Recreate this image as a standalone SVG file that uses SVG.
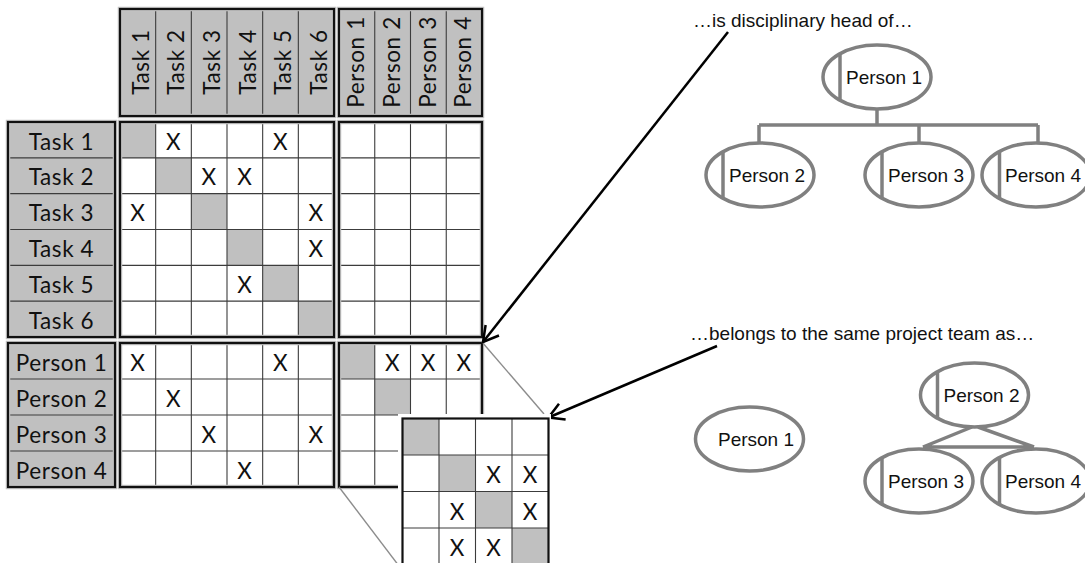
<svg xmlns="http://www.w3.org/2000/svg" width="1085" height="563" viewBox="0 0 1085 563">
<defs>
<style>
.g{fill:#c0c0c0}
.w{fill:#fff}
.halo{fill:none;stroke:#c4c4c4;stroke-width:4.5}
.frame{fill:none;stroke:#111;stroke-width:2.2}
.grid{fill:none;stroke:#3c3c3c;stroke-width:1.1}
.m{font-family:Lato,"Liberation Sans",sans-serif;font-size:22.5px;letter-spacing:0.6px;fill:#111;text-anchor:middle}
.a{font-family:"Liberation Sans",Arial,sans-serif;font-size:19px;fill:#111}
.pn{font-family:"Liberation Sans",Arial,sans-serif;font-size:19px;fill:#111;text-anchor:middle}
.el{fill:#fff;stroke:#808080;stroke-width:3.5}
.gl{fill:none;stroke:#808080;stroke-width:3.5}
.arrow{fill:none;stroke:#000;stroke-width:2.5}
.proj{fill:none;stroke:#8c8c8c;stroke-width:1.4}
</style>
<marker id="arr" markerUnits="userSpaceOnUse" viewBox="-18 -11 22 22" markerWidth="22" markerHeight="22" refX="0" refY="0" orient="auto">
<path d="M-15,-8.5 L0,0 L-15,8.5" fill="none" stroke="#000" stroke-width="2.5"/>
</marker>
</defs>
<rect width="1085" height="563" fill="#fff"/>

<g id="task-header">
<rect x="120" y="9" width="214" height="107" class="g"/>
<path class="grid" d="M155.67,9V116M191.33,9V116M227,9V116M262.67,9V116M298.33,9V116"/>
<rect x="120" y="9" width="214" height="107" class="halo"/>
<rect x="120" y="9" width="214" height="107" class="frame"/>
<text class="m" transform="translate(148.5,62) rotate(-90)">Task 1</text>
<text class="m" transform="translate(184.17,62) rotate(-90)">Task 2</text>
<text class="m" transform="translate(219.83,62) rotate(-90)">Task 3</text>
<text class="m" transform="translate(255.5,62) rotate(-90)">Task 4</text>
<text class="m" transform="translate(291.17,62) rotate(-90)">Task 5</text>
<text class="m" transform="translate(326.83,62) rotate(-90)">Task 6</text>
</g>

<g id="person-header">
<rect x="339" y="9" width="143" height="107" class="g"/>
<path class="grid" d="M374.75,9V116M410.5,9V116M446.25,9V116"/>
<rect x="339" y="9" width="143" height="107" class="halo"/>
<rect x="339" y="9" width="143" height="107" class="frame"/>
<text class="m" transform="translate(364,62) rotate(-90)">Person 1</text>
<text class="m" transform="translate(399.75,62) rotate(-90)">Person 2</text>
<text class="m" transform="translate(435.5,62) rotate(-90)">Person 3</text>
<text class="m" transform="translate(471.25,62) rotate(-90)">Person 4</text>
</g>

<g id="task-labels">
<rect x="8" y="122" width="107" height="215" class="g"/>
<path class="grid" d="M8,157.83H115M8,193.67H115M8,229.5H115M8,265.33H115M8,301.17H115"/>
<rect x="8" y="122" width="107" height="215" class="halo"/>
<rect x="8" y="122" width="107" height="215" class="frame"/>
<text class="m" x="61.5" y="149.5">Task 1</text>
<text class="m" x="61.5" y="185.3">Task 2</text>
<text class="m" x="61.5" y="221.2">Task 3</text>
<text class="m" x="61.5" y="257">Task 4</text>
<text class="m" x="61.5" y="292.8">Task 5</text>
<text class="m" x="61.5" y="328.7">Task 6</text>
</g>

<g id="person-labels">
<rect x="8" y="343" width="107" height="144" class="g"/>
<path class="grid" d="M8,379H115M8,415H115M8,451H115"/>
<rect x="8" y="343" width="107" height="144" class="halo"/>
<rect x="8" y="343" width="107" height="144" class="frame"/>
<text class="m" x="61.5" y="370.5">Person 1</text>
<text class="m" x="61.5" y="406.5">Person 2</text>
<text class="m" x="61.5" y="442.5">Person 3</text>
<text class="m" x="61.5" y="478.5">Person 4</text>
</g>

<g id="task-task">
<rect x="120" y="122" width="214" height="215" class="w"/>
<rect x="120" y="122" width="35.67" height="35.83" class="g"/>
<rect x="155.67" y="157.83" width="35.67" height="35.83" class="g"/>
<rect x="191.33" y="193.67" width="35.67" height="35.83" class="g"/>
<rect x="227" y="229.5" width="35.67" height="35.83" class="g"/>
<rect x="262.67" y="265.33" width="35.67" height="35.83" class="g"/>
<rect x="298.33" y="301.17" width="35.67" height="35.83" class="g"/>
<path class="grid" d="M155.67,122V337M191.33,122V337M227,122V337M262.67,122V337M298.33,122V337M120,157.83H334M120,193.67H334M120,229.5H334M120,265.33H334M120,301.17H334"/>
<rect x="120" y="122" width="214" height="215" class="halo"/>
<rect x="120" y="122" width="214" height="215" class="frame"/>
<text class="m" x="173.5" y="149.5">X</text>
<text class="m" x="280.5" y="149.5">X</text>
<text class="m" x="209.17" y="185.3">X</text>
<text class="m" x="244.83" y="185.3">X</text>
<text class="m" x="137.83" y="221.2">X</text>
<text class="m" x="316.17" y="221.2">X</text>
<text class="m" x="316.17" y="257">X</text>
<text class="m" x="244.83" y="292.8">X</text>
</g>

<g id="task-person">
<rect x="339" y="122" width="143" height="215" class="w"/>
<path class="grid" d="M374.75,122V337M410.5,122V337M446.25,122V337M339,157.83H482M339,193.67H482M339,229.5H482M339,265.33H482M339,301.17H482"/>
<rect x="339" y="122" width="143" height="215" class="halo"/>
<rect x="339" y="122" width="143" height="215" class="frame"/>
</g>

<g id="person-task">
<rect x="120" y="343" width="214" height="144" class="w"/>
<path class="grid" d="M155.67,343V487M191.33,343V487M227,343V487M262.67,343V487M298.33,343V487M120,379H334M120,415H334M120,451H334"/>
<rect x="120" y="343" width="214" height="144" class="halo"/>
<rect x="120" y="343" width="214" height="144" class="frame"/>
<text class="m" x="137.83" y="370.5">X</text>
<text class="m" x="280.5" y="370.5">X</text>
<text class="m" x="173.5" y="406.5">X</text>
<text class="m" x="209.17" y="442.5">X</text>
<text class="m" x="316.17" y="442.5">X</text>
<text class="m" x="244.83" y="478.5">X</text>
</g>

<g id="person-person">
<rect x="339" y="343" width="143" height="144" class="w"/>
<rect x="339" y="343" width="35.75" height="36" class="g"/>
<rect x="374.75" y="379" width="35.75" height="36" class="g"/>
<path class="grid" d="M374.75,343V487M410.5,343V487M446.25,343V487M339,379H482M339,415H482M339,451H482"/>
<rect x="339" y="343" width="143" height="144" class="halo"/>
<rect x="339" y="343" width="143" height="144" class="frame"/>
<text class="m" x="392.6" y="370.5">X</text>
<text class="m" x="428.4" y="370.5">X</text>
<text class="m" x="464.1" y="370.5">X</text>
</g>

<g id="connectors">
<line class="proj" x1="482" y1="342" x2="544" y2="414"/>
<line class="proj" x1="339" y1="487" x2="399" y2="566"/>
<line class="arrow" x1="728" y1="32" x2="483" y2="342" marker-end="url(#arr)"/>
<line class="arrow" x1="717" y1="346" x2="548.5" y2="417.5" marker-end="url(#arr)"/>
<path class="gl" d="M877,108V125M759,125H1038M759,125V143M919,125V143M1038,125V143"/>
<path class="gl" d="M972,427L923,447M978,427L1034,447M923,447H1034"/>
</g>

<g id="zoom-matrix">
<rect x="398" y="414" width="153" height="160" class="w"/>
<rect x="402.5" y="418.5" width="36.5" height="36.5" class="g"/>
<rect x="439" y="455" width="36.5" height="36.5" class="g"/>
<rect x="475.5" y="491.5" width="36.5" height="36.5" class="g"/>
<rect x="512" y="528" width="36.5" height="36.5" class="g"/>
<path class="grid" d="M439,418.5V570M475.5,418.5V570M512,418.5V570M402.5,455H548.5M402.5,491.5H548.5M402.5,528H548.5"/>
<rect x="402.5" y="418.5" width="146" height="160" class="frame"/>
<text class="m" x="493.75" y="483">X</text>
<text class="m" x="530.25" y="483">X</text>
<text class="m" x="457.25" y="519.5">X</text>
<text class="m" x="530.25" y="519.5">X</text>
<text class="m" x="457.25" y="556">X</text>
<text class="m" x="493.75" y="556">X</text>
</g>

<g id="label-head">
<text class="a" x="693" y="27">…is disciplinary head of…</text>
</g>
<g id="label-team">
<text class="a" x="690" y="340">…belongs to the same project team as…</text>
</g>

<g id="head-p1">
<ellipse class="el" cx="877" cy="77" rx="54" ry="32"/>
<line class="gl" x1="840" y1="54" x2="840" y2="100"/>
<text class="pn" x="884" y="84">Person 1</text>
</g>
<g id="head-p2">
<ellipse class="el" cx="760" cy="175" rx="54" ry="32"/>
<line class="gl" x1="723" y1="152" x2="723" y2="198"/>
<text class="pn" x="767" y="182">Person 2</text>
</g>
<g id="head-p3">
<ellipse class="el" cx="919" cy="175" rx="54" ry="32"/>
<line class="gl" x1="882" y1="152" x2="882" y2="198"/>
<text class="pn" x="926" y="182">Person 3</text>
</g>
<g id="head-p4">
<ellipse class="el" cx="1036" cy="175" rx="54" ry="32"/>
<line class="gl" x1="999.5" y1="152" x2="999.5" y2="198"/>
<text class="pn" x="1043" y="182">Person 4</text>
</g>

<g id="team-p1">
<ellipse class="el" cx="749.5" cy="439" rx="54" ry="32"/>
<text class="pn" x="756" y="446">Person 1</text>
</g>
<g id="team-p2">
<ellipse class="el" cx="974.5" cy="395" rx="54" ry="32"/>
<line class="gl" x1="937.5" y1="372" x2="937.5" y2="418"/>
<text class="pn" x="981.5" y="402">Person 2</text>
</g>
<g id="team-p3">
<ellipse class="el" cx="919" cy="481" rx="54" ry="32"/>
<line class="gl" x1="882" y1="458" x2="882" y2="504"/>
<text class="pn" x="926" y="488">Person 3</text>
</g>
<g id="team-p4">
<ellipse class="el" cx="1036" cy="481" rx="54" ry="32"/>
<line class="gl" x1="999.5" y1="458" x2="999.5" y2="504"/>
<text class="pn" x="1043" y="488">Person 4</text>
</g>
</svg>
